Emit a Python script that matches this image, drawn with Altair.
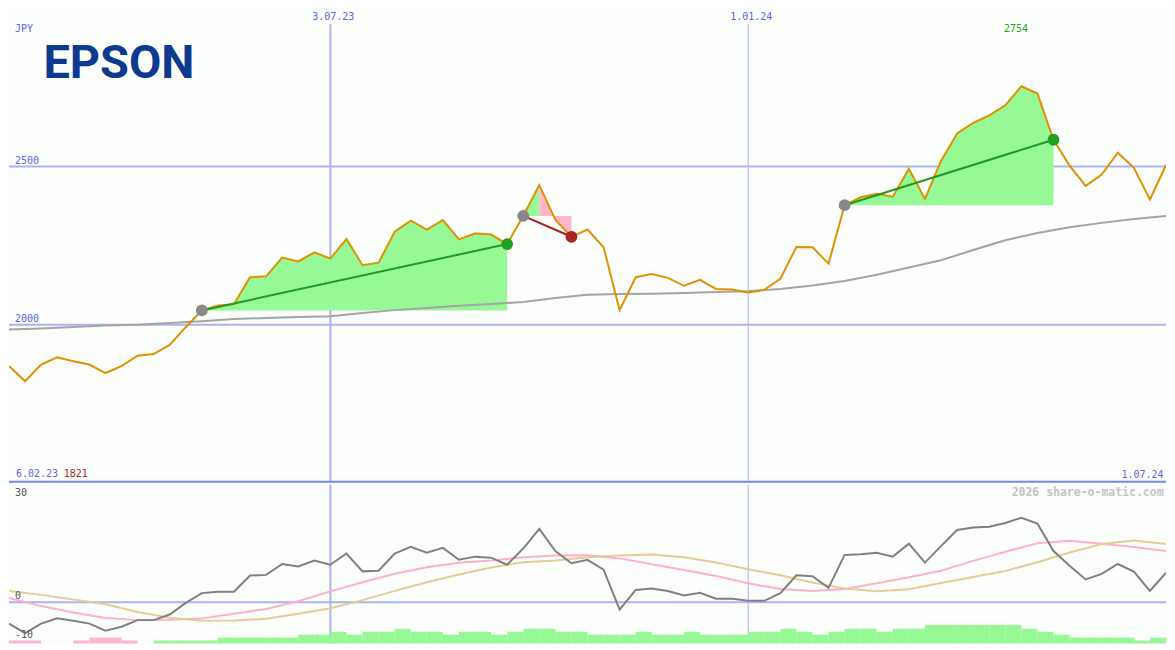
import altair as alt
import pandas as pd

# ---------------- data ----------------
weeks = list(range(73))                      # weekly closes, 13.02.23 .. 1.07.24
price = [1869, 1821, 1874, 1897, 1884, 1874, 1847, 1869, 1902, 1907,
         1936, 1992, 2045, 2061, 2065, 2150, 2153, 2212, 2200, 2229,
         2209, 2271, 2188, 2196, 2294, 2329, 2301, 2331, 2270, 2288,
         2285, 2255, 2344, 2442, 2331, 2278, 2301, 2245, 2046, 2150,
         2160, 2148, 2123, 2142, 2113, 2111, 2102, 2110, 2145, 2246,
         2245, 2193, 2378, 2403, 2414, 2405, 2493, 2398, 2518, 2605,
         2638, 2662, 2694, 2754, 2731, 2585, 2503, 2439, 2475, 2544,
         2496, 2396, 2505]
ma_weeks = list(range(0, 73, 2))
ma = [1985, 1988, 1993, 1997, 2000, 2005, 2011, 2018, 2021, 2024,
      2027, 2037, 2046, 2053, 2060, 2065, 2072, 2084, 2095, 2097,
      2098, 2100, 2103, 2106, 2113, 2124, 2138, 2158, 2181, 2204,
      2236, 2267, 2290, 2308, 2322, 2334, 2344]
indicator = [-6.1, -8.8, -6.1, -4.6, -5.3, -6.1, -8.1, -7.0, -5.1, -5.1,
             -3.5, -0.2, 2.6, 3.0, 3.0, 7.6, 7.8, 10.9, 10.2, 11.9,
             10.7, 13.9, 8.8, 9.0, 13.9, 15.8, 14.1, 15.5, 12.1, 13.0,
             12.7, 10.7, 15.3, 20.9, 14.6, 11.1, 12.1, 9.3, -2.1, 3.5,
             3.9, 3.2, 1.9, 2.7, 1.0, 1.0, 0.4, 0.4, 2.6, 7.7,
             7.4, 4.1, 13.5, 13.7, 14.1, 13.0, 16.7, 11.3, 16.0, 20.6,
             21.3, 21.5, 22.6, 24.1, 22.4, 14.6, 10.4, 6.5, 8.1, 10.9,
             8.75, 3.2, 8.4]
sig_weeks = list(range(0, 73, 2))
pink_sig = [1.2, -1.1, -2.9, -4.5, -5.1, -5.0, -4.6, -3.3, -1.9, 0.3,
            3.1, 5.7, 8.1, 10.0, 11.25, 11.9, 12.8, 13.3, 13.4, 12.5,
            10.8, 9.2, 7.5, 5.4, 3.75, 3.2, 3.75, 5.4, 7.1, 9.0,
            11.8, 14.4, 16.8, 17.5, 16.7, 15.75, 14.6]
tan_sig = [3.2, 2.1, 0.8, -0.6, -2.8, -4.4, -5.3, -5.2, -4.7, -3.3,
           -1.7, 0.6, 3.25, 5.7, 7.9, 9.9, 11.4, 11.9, 12.8, 13.3,
           13.6, 12.8, 11.3, 9.4, 7.7, 5.6, 3.9, 3.1, 3.7, 5.5,
           7.2, 8.9, 11.4, 14.2, 16.6, 17.6, 16.6]
hist = [-1, -1, 0, 0, -1, -2, -2, -1, 0, 1,
        1, 1, 1, 2, 2, 2, 2, 2, 3, 3,
        4, 3, 4, 4, 5, 4, 4, 3, 4, 4,
        3, 4, 5, 5, 4, 4, 3, 3, 3, 4,
        3, 3, 4, 3, 3, 3, 4, 4, 5, 4,
        3, 4, 5, 5, 4, 5, 5, 6.3, 6.3, 6.3,
        6.3, 6.3, 6.3, 5, 4, 3, 2, 2, 2, 2,
        1, 2]
entries = [12, 32, 52]
exits = [31, 35, 65]
outcomes = ["win", "loss", "win"]
grid_prices = [2000, 2500]
date_weeks = [20, 46]
date_labels = ["3.07.23", "1.01.24"]
start_label = "6.02.23"
end_label = "1.07.24"

# ---------------- styling / layout ----------------
W, HM, HB = 1159, 475, 159
SX, SYM, SYB = W / 1175, HM / 487, HB / 163
BG = "#fcfefc"
GRID = "#a9b5f2"
SEP = "#7886f0"
BLUE = "#5566ee"
ORANGE = "#e09000"
MA_C = "#a4a4a4"
GFILL = "#96f996"
PFILL = "#ffb6c8"
GLINE = "#229922"
RLINE = "#a52020"
MONO = "DejaVu Sans Mono"

xs = alt.Scale(domain=[0, 72], nice=False, zero=False)
ys = alt.Scale(domain=[1500, 3000], nice=False, zero=False)
yb = alt.Scale(domain=[-11.75, 33.5], nice=False, zero=False)
ybar = alt.Scale(domain=[0, 54.33], nice=False, zero=False)

X = alt.X("week:Q", scale=xs, axis=None)
YP = alt.Y("p:Q", scale=ys, axis=None)

price_df = pd.DataFrame({"week": weeks, "p": price})
ma_df = pd.DataFrame({"week": ma_weeks, "p": ma})

area_rows, line_rows, dot_rows = [], [], []
for t, (e, x_, o) in enumerate(zip(entries, exits, outcomes)):
    base = price[e]
    if o == "win":
        for i in range(e, x_ + 1):
            area_rows.append(dict(week=i, p=price[i], base=base, seg=f"{t}a", fill=GFILL))
    else:
        peak = max(range(e, x_ + 1), key=lambda i: price[i])
        for i in range(e, peak + 1):
            area_rows.append(dict(week=i, p=price[i], base=base, seg=f"{t}a", fill=GFILL))
        for i in range(peak, x_ + 1):
            area_rows.append(dict(week=i, p=price[i], base=base, seg=f"{t}b", fill=PFILL))
    lc = GLINE if o == "win" else RLINE
    line_rows += [dict(week=e, p=price[e], trade=t, col=lc), dict(week=x_, p=price[x_], trade=t, col=lc)]
    dot_rows += [dict(week=e, p=price[e], col="#888888"),
                 dict(week=x_, p=price[x_], col="#22a022" if o == "win" else "#aa2222")]
area_df = pd.DataFrame(area_rows)
line_df = pd.DataFrame(line_rows)
dot_df = pd.DataFrame(dot_rows)

one = pd.DataFrame({"a": [0]})

# ---------------- main panel ----------------
hgrid = alt.Chart(pd.DataFrame({"p": grid_prices})).mark_rule(color=GRID, strokeWidth=2).encode(
    y=YP, x=alt.value(0), x2=alt.value(W))
vgrid = alt.Chart(pd.DataFrame({"week": date_weeks, "sw": [2, 1]})).mark_rule(color=GRID).encode(
    x=X, y=alt.value(16 * SYM), y2=alt.value(HM), strokeWidth=alt.StrokeWidth("sw:Q", scale=None))
sep = alt.Chart(one).mark_rule(color=SEP, strokeWidth=2).encode(
    y=alt.value(HM - 1), x=alt.value(0), x2=alt.value(W))
areas = alt.Chart(area_df).mark_area(opacity=1).encode(
    x=X, y=YP, y2="base:Q", detail="seg:N", color=alt.Color("fill:N", scale=None))
ma_line = alt.Chart(ma_df).mark_line(color=MA_C, strokeWidth=2, clip=True).encode(x=X, y=YP)
p_line = alt.Chart(price_df).mark_line(color=ORANGE, strokeWidth=2, clip=True).encode(x=X, y=YP)
t_lines = alt.Chart(line_df).mark_line(strokeWidth=2).encode(
    x=X, y=YP, detail="trade:N", color=alt.Color("col:N", scale=None))
dots = alt.Chart(dot_df).mark_circle(size=140, opacity=1).encode(
    x=X, y=YP, color=alt.Color("col:N", scale=None))


def label(text, x, y, color=BLUE, align="left", size=10, font=MONO, weight="normal", baseline="middle"):
    return alt.Chart(pd.DataFrame({"t": [text]})).mark_text(
        align=align, baseline=baseline, font=font, fontSize=size, fontWeight=weight, color=color
    ).encode(text="t:N", x=alt.value(x), y=alt.value(y))


grid_lbl = alt.Chart(pd.DataFrame({"p": grid_prices, "t": [str(v) for v in grid_prices]})).mark_text(
    align="left", baseline="middle", font=MONO, fontSize=10, color=BLUE, dy=-5.5 * SYM
).encode(y=YP, x=alt.value(6 * SX), text="t:N")
date_lbl = alt.Chart(pd.DataFrame({"week": date_weeks, "t": date_labels})).mark_text(
    align="center", baseline="middle", font=MONO, fontSize=10, color=BLUE, dx=3 * SX
).encode(x=X, y=alt.value(9 * SYM), text="t:N")
imax = max(weeks, key=lambda i: price[i])
max_lbl = alt.Chart(pd.DataFrame({"week": [imax], "t": [str(price[imax])]})).mark_text(
    align="center", baseline="middle", font=MONO, fontSize=10, color="#22a022", dx=-5.5 * SX
).encode(x=X, y=alt.value(21 * SYM), text="t:N")

main = alt.layer(
    hgrid, vgrid, areas, ma_line, p_line, t_lines, dots, sep,
    grid_lbl, date_lbl, max_lbl,
    label("JPY", 6 * SX, 21 * SYM),
    label("EPSON", 35 * SX, 71 * SYM, color="#0d3a8e", size=47, font="Roboto",
          weight="bold", baseline="alphabetic"),
    label(start_label, 7 * SX, 478.5 * SYM),
    label(str(min(price)), 55.5 * SX, 478.5 * SYM, color="#aa2222"),
    label(end_label, 1172.5 * SX, 479 * SYM, align="right"),
).properties(width=W, height=HM)

# ---------------- indicator panel ----------------
ind_df = pd.DataFrame({"week": weeks, "v": indicator})
sig_df = pd.DataFrame({"week": sig_weeks + sig_weeks,
                       "v": pink_sig + tan_sig,
                       "s": ["pink"] * len(sig_weeks) + ["tan"] * len(sig_weeks)})
bar_df = pd.DataFrame({"k0": list(range(len(hist))), "k1": list(range(1, len(hist) + 1)),
                       "h": [abs(v) for v in hist], "zero": [0] * len(hist),
                       "col": [GFILL if v > 0 else PFILL for v in hist]})
bar_df = bar_df[bar_df["h"] > 0]

YB = alt.Y("v:Q", scale=yb, axis=None)
vgrid_b = alt.Chart(pd.DataFrame({"week": date_weeks, "sw": [2, 1]})).mark_rule(color=GRID).encode(
    x=X, y=alt.value(0), y2=alt.value(HB), strokeWidth=alt.StrokeWidth("sw:Q", scale=None))
zero = alt.Chart(pd.DataFrame({"v": [0]})).mark_rule(color=GRID, strokeWidth=2).encode(
    y=YB, x=alt.value(0), x2=alt.value(W))
bars = alt.Chart(bar_df).mark_rect(opacity=1).encode(
    x=alt.X("k0:Q", scale=xs, axis=None), x2="k1:Q",
    y=alt.Y("h:Q", scale=ybar, axis=None), y2="zero:Q",
    color=alt.Color("col:N", scale=None))
sig_lines = alt.Chart(sig_df).mark_line(strokeWidth=2, clip=True).encode(
    x=X, y=YB, color=alt.Color("s:N", scale=alt.Scale(domain=["pink", "tan"], range=["#ffb0c8", "#e6cc98"]),
                               legend=None))
ind_line = alt.Chart(ind_df).mark_line(color="#808080", strokeWidth=2, clip=True).encode(x=X, y=YB)

bottom = alt.layer(
    vgrid_b, zero, bars, sig_lines, ind_line,
    label("30", 6 * SX, 9 * SYB, color="#555555"),
    label("0", 6 * SX, 114.7 * SYB, color="#555555"),
    label("-10", 6 * SX, 154.7 * SYB, color="#555555"),
    label("2026 share-o-matic.com", 1172.5 * SX, 9 * SYB, color="#c4c4c4", align="right",
          size=11.5, weight="bold"),
).resolve_scale(y="independent").properties(width=W, height=HB)

chart = alt.vconcat(main, bottom, spacing=0).properties(
    padding=0, background=BG
).configure_view(strokeWidth=0)

chart.save("out.html", embed_options={"renderer": "svg", "actions": False})
